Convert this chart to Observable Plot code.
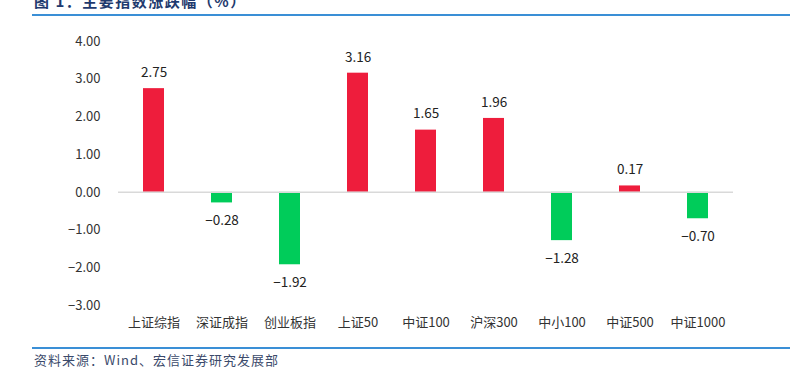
<!DOCTYPE html>
<html>
<head>
<meta charset="utf-8">
<script src="https://cdn.jsdelivr.net/npm/d3@7"></script>
<script src="https://cdn.jsdelivr.net/npm/@observablehq/plot@0.6"></script>
<style>
  html, body { margin: 0; padding: 0; background: #fff; }
  #wrap { position: relative; width: 790px; height: 368px; overflow: hidden; font-family: "Noto Sans CJK SC", "Noto Sans", sans-serif; }
  #title { position: absolute; left: 34px; top: -7px; font-size: 15px; line-height: 15px; font-weight: bold; color: #1f3a6e; letter-spacing: 1.5px; white-space: nowrap; }
  .hr { position: absolute; left: 32px; width: 758px; height: 2px; background: #3a8fd6; }
  #source { position: absolute; left: 34px; top: 352px; font-size: 13px; line-height: 15px; color: #3b4a6b; letter-spacing: 1px; white-space: nowrap; }
  #chart { position: absolute; left: 0; top: 0; }
</style>
</head>
<body>
<div id="wrap">
  <div id="chart"></div>
  <div id="title">图 1：主要指数涨跌幅（%）</div>
  <div class="hr" style="top:14px"></div>
  <div class="hr" style="top:347px"></div>
  <div id="source">资料来源：Wind、宏信证券研究发展部</div>
</div>
<script>
const categories = ["上证综指", "深证成指", "创业板指", "上证50", "中证100", "沪深300", "中小100", "中证500", "中证1000"];
const values = [2.75, -0.28, -1.92, 3.16, 1.65, 1.96, -1.28, 0.17, -0.70];
const yTicks = [-3, -2, -1, 0, 1, 2, 3, 4];

const data = categories.map((c, i) => ({cat: c, v: values[i]}));
const fmt = d3.format(".2f");
const RED = "#ee1d3c", GREEN = "#00cc5a";

const chart = Plot.plot({
  width: 790,
  height: 340,
  marginLeft: 118,
  marginRight: 57,
  marginTop: 41,
  marginBottom: 35,
  style: {fontFamily: "'Noto Sans CJK SC', 'Noto Sans', sans-serif", fontSize: "13px", color: "#333", background: "transparent"},
  x: {domain: categories, paddingInner: 0.69, paddingOuter: 0.345, label: null},
  y: {domain: [-3, 4], label: null},
  marks: [
    Plot.axisY({ticks: yTicks, tickFormat: d => d === 0 ? "0.00" : fmt(d), tickSize: 0, tickPadding: 18, fontSize: 13, fill: "#333"}),
    Plot.axisX({tickSize: 0, tickPadding: 12, fontSize: 13, fill: "#333"}),
    Plot.barY(data, {x: "cat", y: "v", fill: d => d.v >= 0 ? RED : GREEN}),
    Plot.ruleY([0], {stroke: "#d9d9d9", strokeWidth: 1.5}),
    Plot.text(data.filter(d => d.v >= 0), {x: "cat", y: "v", text: d => fmt(d.v), dy: -16, fontSize: 13.5, fill: "#222"}),
    Plot.text(data.filter(d => d.v < 0), {x: "cat", y: "v", text: d => fmt(d.v), dy: 18, fontSize: 13.5, fill: "#222"})
  ]
});
document.getElementById("chart").appendChild(chart);
</script>
</body>
</html>
